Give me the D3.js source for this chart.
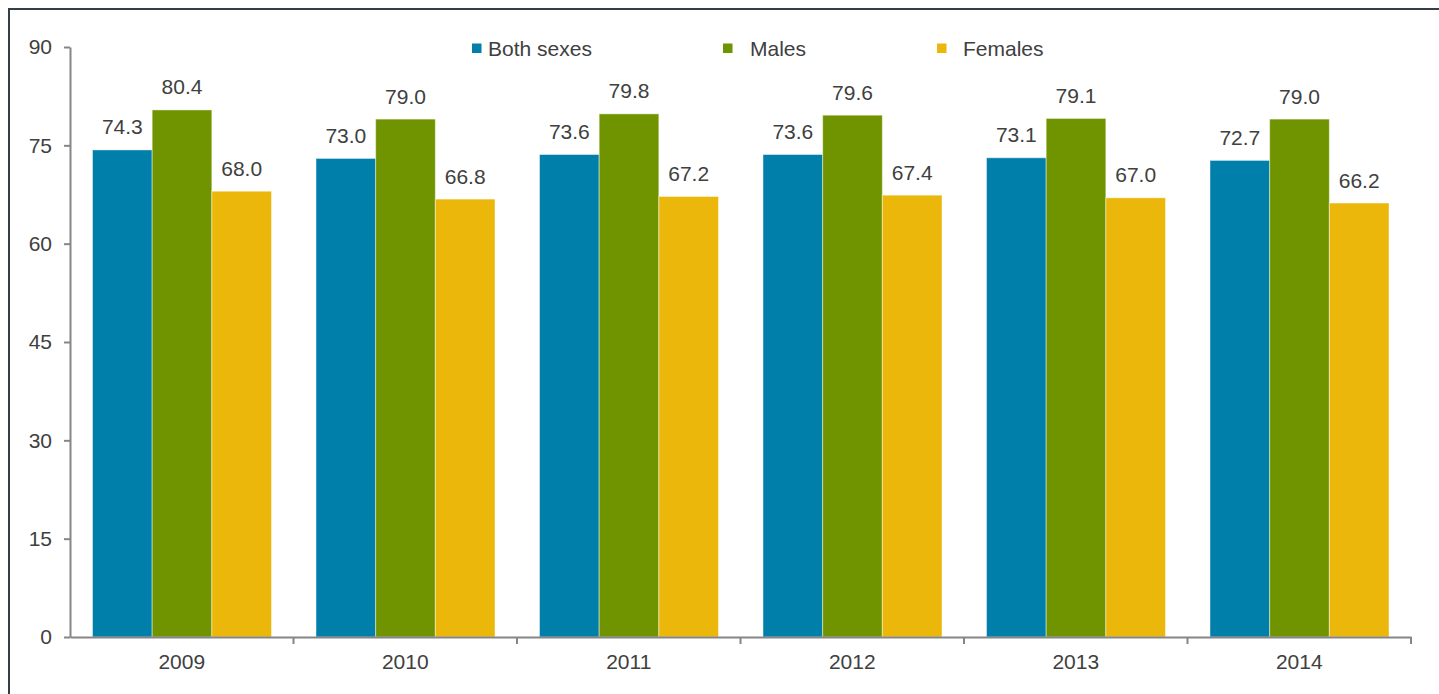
<!DOCTYPE html>
<html>
<head>
<meta charset="utf-8">
<script src="https://cdn.jsdelivr.net/npm/d3@7"></script>
<style>
  body { margin: 0; background: #fff; }
  svg { display: block; font-family: "Liberation Sans", Arial, sans-serif; }
</style>
</head>
<body>
<svg id="chart" width="1439" height="694"></svg>
<script>
// data
const years = ["2009", "2010", "2011", "2012", "2013", "2014"];
const seriesNames = ["Both sexes", "Males", "Females"];
const bothSexes = [74.3, 73.0, 73.6, 73.6, 73.1, 72.7];
const males = [80.4, 79.0, 79.8, 79.6, 79.1, 79.0];
const females = [68.0, 66.8, 67.2, 67.4, 67.0, 66.2];
const yTicks = [0, 15, 30, 45, 60, 75, 90];

const colors = ["#007fab", "#6f9400", "#ebb70b"];
const textColor = "#404040";
const axisColor = "#868686";
const fontSize = 21;

const svg = d3.select("#chart");
const width = 1439, height = 694;
const margin = { top: 47, right: 28, bottom: 57, left: 70 };

// frame round the chart (top and left edges show)
svg.append("path")
    .attr("d", `M9,${height} V9 H${width}`)
    .attr("fill", "none")
    .attr("stroke", "#333f48")
    .attr("stroke-width", 2);

const x = d3.scaleBand()
    .domain(years)
    .range([margin.left, width - margin.right]);

const xInner = d3.scaleBand()
    .domain(seriesNames)
    .range([22.5, x.bandwidth() - 22]);

const y = d3.scaleLinear()
    .domain([0, 90])
    .range([height - margin.bottom, margin.top]);

const rows = years.map((yr, i) => ({
    year: yr,
    values: [bothSexes[i], males[i], females[i]]
}));

// bars
const groups = svg.append("g")
    .selectAll("g")
    .data(rows)
    .join("g")
    .attr("transform", d => `translate(${x(d.year)},0)`);

groups.selectAll("rect")
    .data(d => d.values.map((v, k) => ({ name: seriesNames[k], value: v, k: k })))
    .join("rect")
    .attr("x", d => xInner(d.name))
    .attr("width", xInner.bandwidth())
    .attr("y", d => y(d.value))
    .attr("height", d => y(0) - y(d.value))
    .attr("fill", d => colors[d.k])
    .attr("stroke", "rgba(255,255,255,0.45)")
    .attr("stroke-width", 1);

groups.selectAll("text")
    .data(d => d.values.map((v, k) => ({ name: seriesNames[k], value: v })))
    .join("text")
    .attr("x", d => xInner(d.name) + xInner.bandwidth() / 2)
    .attr("y", d => y(d.value) - 15.5)
    .attr("text-anchor", "middle")
    .attr("fill", textColor)
    .attr("font-size", fontSize)
    .text(d => d.value.toFixed(1));

// y axis
const yAxis = svg.append("g")
    .attr("transform", `translate(${margin.left},0)`)
    .call(d3.axisLeft(y).tickValues(yTicks).tickSize(6).tickPadding(12).tickSizeOuter(0));

// x axis, ticks sit on the category edges
const xAxis = svg.append("g")
    .attr("transform", `translate(0,${y(0)})`)
    .call(d3.axisBottom(x).tickSize(0).tickPadding(17).tickSizeOuter(0));

xAxis.selectAll(".edge")
    .data(years.slice(1).map(yr => x(yr)).concat([x.range()[1]]))
    .join("line")
    .attr("class", "edge")
    .attr("x1", d => d).attr("x2", d => d)
    .attr("y1", 0).attr("y2", 7);

[yAxis, xAxis].forEach(g => {
    g.select(".domain").attr("stroke", axisColor).attr("stroke-width", 2);
    g.selectAll("line").attr("stroke", axisColor).attr("stroke-width", 2);
    g.selectAll("text")
        .attr("fill", textColor)
        .attr("font-size", fontSize)
        .attr("font-family", "Liberation Sans, Arial, sans-serif");
});
xAxis.selectAll(".tick text").attr("dy", "0.71em");

// legend
const legendX = [472, 723, 937];
const legendTextX = [488, 750, 963];
const legend = svg.append("g")
    .selectAll("g")
    .data(seriesNames)
    .join("g");

legend.append("rect")
    .attr("x", (d, i) => legendX[i])
    .attr("y", 43.5)
    .attr("width", 9.5)
    .attr("height", 9.5)
    .attr("fill", (d, i) => colors[i]);

legend.append("text")
    .attr("x", (d, i) => legendTextX[i])
    .attr("y", 56)
    .attr("fill", textColor)
    .attr("font-size", fontSize)
    .text(d => d);
</script>
</body>
</html>
